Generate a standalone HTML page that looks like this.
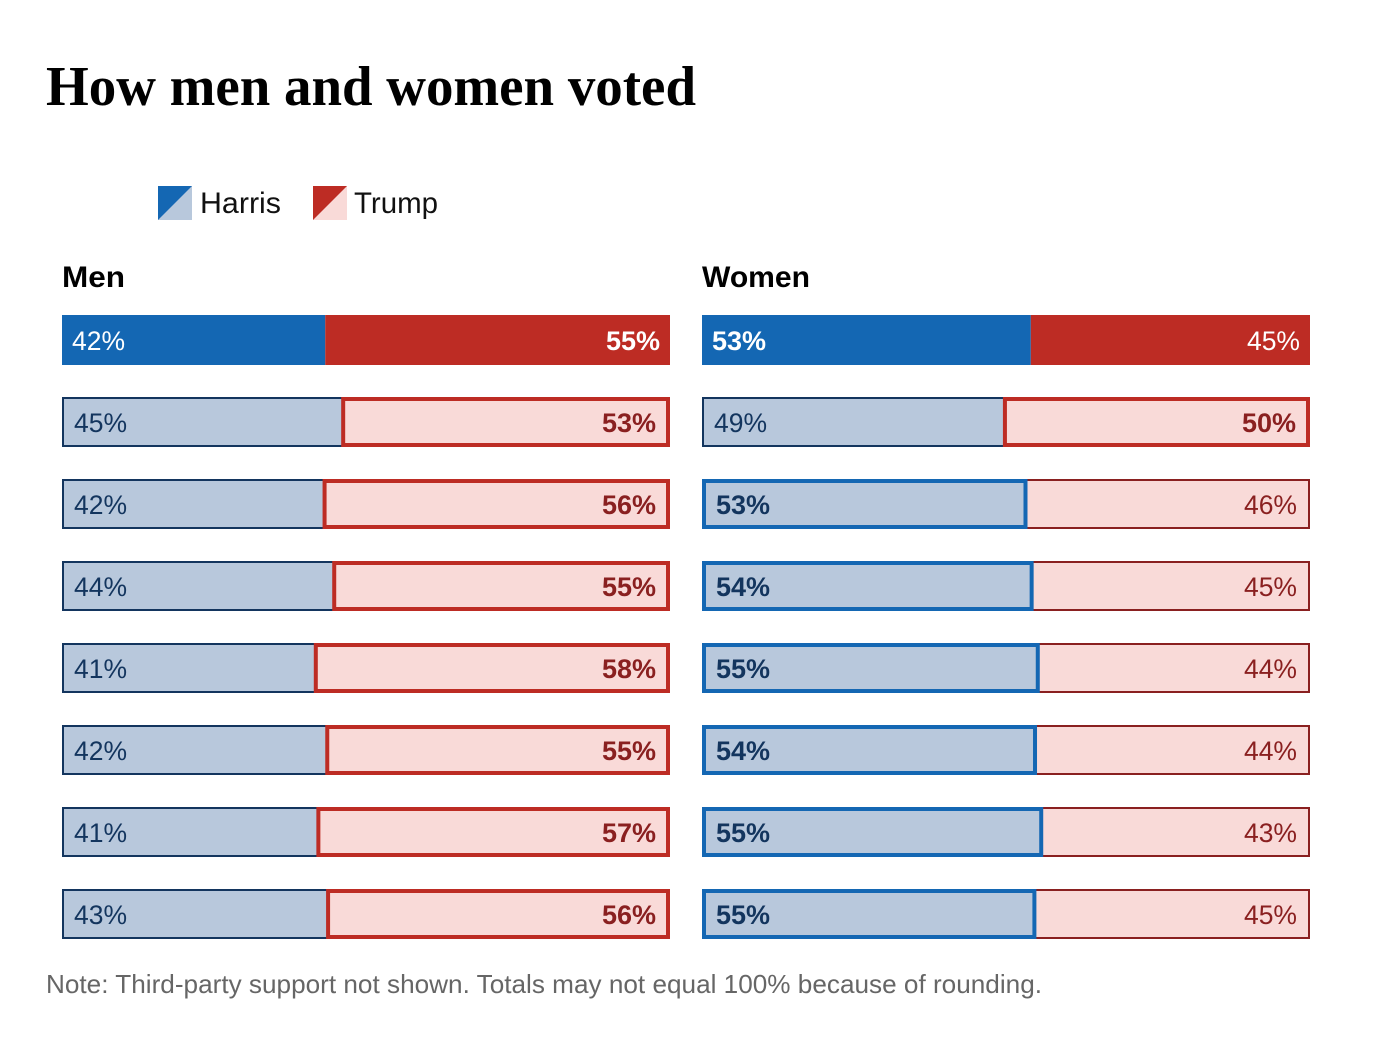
<!DOCTYPE html>
<html lang="en">
<head>
<meta charset="utf-8">
<title>How men and women voted</title>
<style>
html,body{margin:0;padding:0;background:#fff;width:1384px;height:1042px;overflow:hidden}
svg{display:block;font-family:"Liberation Sans",sans-serif}
</style>
</head>
<body>
<svg id="chart" width="1384" height="1042" viewBox="0 0 1384 1042" xmlns="http://www.w3.org/2000/svg">
  <text x="46" y="105" font-family="'Liberation Serif',serif" font-weight="700" font-size="56" fill="#000" textLength="650" lengthAdjust="spacingAndGlyphs">How men and women voted</text>
  <g>
    <g>
      <rect x="158" y="186" width="34" height="34" fill="#b8c8dc"/>
      <polygon points="158,186 192,186 158,220" fill="#1467b3"/>
      <text x="200" y="213" font-size="30" fill="#111" textLength="81" lengthAdjust="spacingAndGlyphs">Harris</text>
    </g>
    <g>
      <rect x="313" y="186" width="34" height="34" fill="#f9dad8"/>
      <polygon points="313,186 347,186 313,220" fill="#bd2c24"/>
      <text x="354" y="213" font-size="30" fill="#111" textLength="84" lengthAdjust="spacingAndGlyphs">Trump</text>
    </g>
  </g>
  <text x="62" y="287" font-size="30" font-weight="700" fill="#000" textLength="63" lengthAdjust="spacingAndGlyphs">Men</text>
  <text x="702" y="287" font-size="30" font-weight="700" fill="#000" textLength="108" lengthAdjust="spacingAndGlyphs">Women</text>
  <g id="men-panel"></g>
  <g id="women-panel"></g>
  <text x="46" y="993" font-size="26" fill="#666" textLength="996" lengthAdjust="spacingAndGlyphs">Note: Third-party support not shown. Totals may not equal 100% because of rounding.</text>
</svg>
<script>
var menHarris = [42, 45, 42, 44, 41, 42, 41, 43];
var menTrump = [55, 53, 56, 55, 58, 55, 57, 56];
var womenHarris = [53, 49, 53, 54, 55, 54, 55, 55];
var womenTrump = [45, 50, 46, 45, 44, 44, 43, 45];

var SVG_NS = 'http://www.w3.org/2000/svg';
var BAR_WIDTH = 608;
var BAR_HEIGHT = 50;
var UNDERLAP = 3;
var BLUE = '#1467b3', RED = '#bd2c24', LIGHT_BLUE = '#b8c8dc', LIGHT_RED = '#f9dad8';
var NAVY = '#13355e', DARK_RED = '#8a2020';

function rowY(i) { return 315 + 82 * i; }
function splitX(h, t) { return BAR_WIDTH * h / (h + t); }

function make(tag, parent, attrs) {
  var el = document.createElementNS(SVG_NS, tag);
  for (var k in attrs) el.setAttribute(k, attrs[k]);
  parent.appendChild(el);
  return el;
}

function segment(parent, x, y, w, fill, stroke, sw) {
  return make('rect', parent, {
    x: x + sw / 2, y: y + sw / 2,
    width: Math.max(w - sw, 0), height: BAR_HEIGHT - sw,
    fill: fill, stroke: stroke, 'stroke-width': sw
  });
}

function label(parent, x, y, value, anchor, bold, color) {
  var el = make('text', parent, {
    x: x, y: y, 'text-anchor': anchor, 'font-size': bold ? 27 : 26.5,
    'font-weight': bold ? 700 : 400, fill: color
  });
  el.textContent = value + '%';
  return el;
}

function drawPanel(panelId, prefix, x0, harris, trump) {
  var panel = document.getElementById(panelId);
  harris.forEach(function (h, i) {
    var t = trump[i];
    var y = rowY(i);
    var sx = splitX(h, t);
    var harrisWins = h > t;
    var row = make('g', panel, {});
    
    
    var hBar, tBar, hText, tText;
    if (i === 0) {
      hBar = make('rect', row, { x: x0, y: y, width: sx, height: BAR_HEIGHT, fill: BLUE });
      tBar = make('rect', row, { x: x0 + sx, y: y, width: BAR_WIDTH - sx, height: BAR_HEIGHT, fill: RED });
      hText = label(row, x0 + 10, y + 35, h, 'start', harrisWins, '#fff');
      tText = label(row, x0 + BAR_WIDTH - 10, y + 35, t, 'end', !harrisWins, '#fff');
    } else if (harrisWins) {
      tBar = segment(row, x0 + sx - UNDERLAP, y, BAR_WIDTH - sx + UNDERLAP, LIGHT_RED, DARK_RED, 2);
      hBar = segment(row, x0, y, sx, LIGHT_BLUE, BLUE, 4);
      hText = label(row, x0 + 14, y + 35, h, 'start', true, NAVY);
      tText = label(row, x0 + BAR_WIDTH - 13, y + 35, t, 'end', false, DARK_RED);
    } else {
      hBar = segment(row, x0, y, sx + UNDERLAP, LIGHT_BLUE, NAVY, 2);
      tBar = segment(row, x0 + sx, y, BAR_WIDTH - sx, LIGHT_RED, RED, 4);
      hText = label(row, x0 + 12, y + 35, h, 'start', false, NAVY);
      tText = label(row, x0 + BAR_WIDTH - 14, y + 35, t, 'end', true, DARK_RED);
    }
    
    
    
    
    
    
    
    
  });
}

drawPanel('men-panel', 'men', 62, menHarris, menTrump);
drawPanel('women-panel', 'women', 702, womenHarris, womenTrump);
</script>
</body>
</html>
